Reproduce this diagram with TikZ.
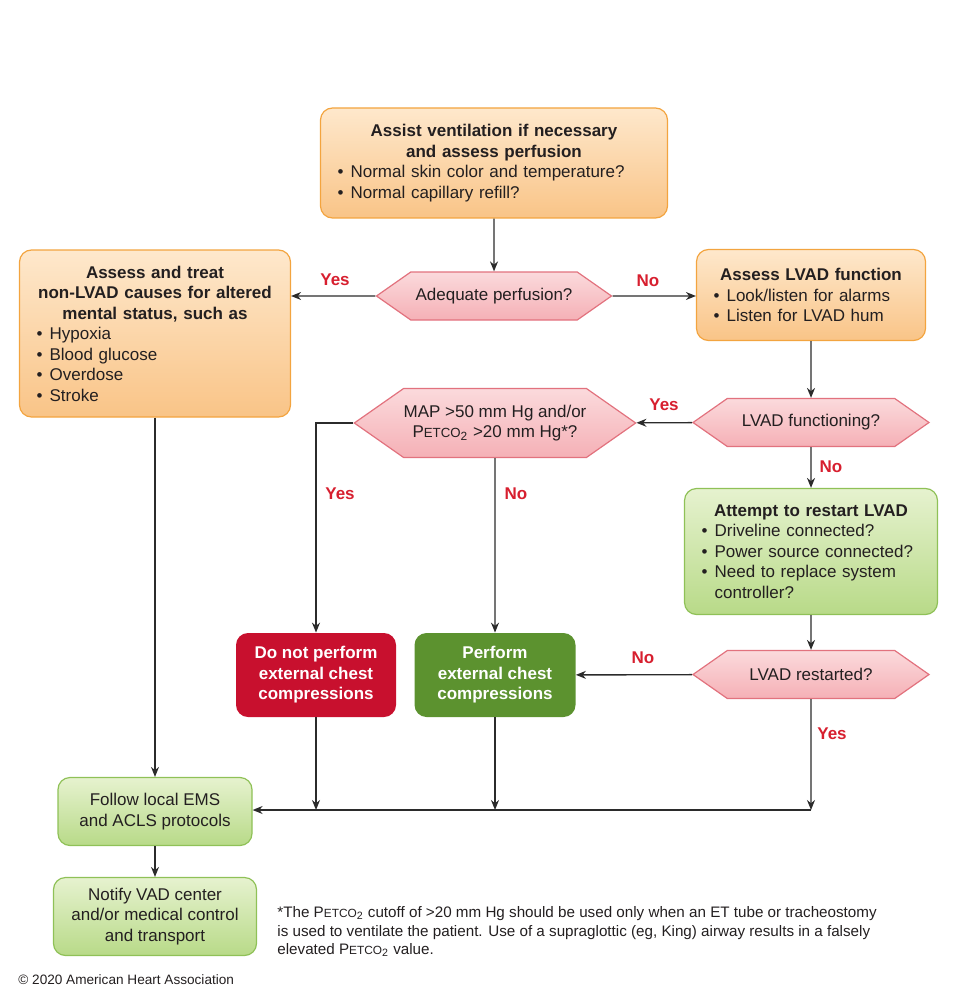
\documentclass[tikz,border=0pt]{standalone}
\usepackage{fontspec}
\setmainfont{Liberation Sans}
\usetikzlibrary{arrows.meta,shapes.symbols}
\definecolor{orangetop}{HTML}{FEE8CC}
\definecolor{orangebot}{HTML}{F9C487}
\definecolor{orangeline}{HTML}{F3A43F}
\definecolor{pinktop}{HTML}{FBDADC}
\definecolor{pinkbot}{HTML}{F5B0B6}
\definecolor{pinkline}{HTML}{E2727E}
\definecolor{greentop}{HTML}{E6F2CF}
\definecolor{greenbot}{HTML}{B8DA88}
\definecolor{greenline}{HTML}{8FC157}
\definecolor{stopred}{HTML}{C8102E}
\definecolor{gogreen}{HTML}{5C922F}
\definecolor{answerred}{HTML}{D71F2F}
\definecolor{lineblack}{HTML}{2B2B2B}
\definecolor{textdark}{HTML}{231F20}
\newcommand\petco{P\scalebox{0.78}{ETCO}\textsubscript{2}}
\newcommand\itm[1]{\mbox{\textbullet\hspace{0.42em}#1}}
\newcommand\itmcont[1]{\mbox{\phantom{\textbullet\hspace{0.42em}}#1}}
\tikzset{
  orangebox/.style={draw=orangeline, line width=0.6pt, rounded corners=6pt,
    top color=orangetop, bottom color=orangebot, align=left, inner xsep=8.5pt},
  greenbox/.style={draw=greenline, line width=0.6pt, rounded corners=6pt,
    top color=greentop, bottom color=greenbot, align=center},
  solidbox/.style={rounded corners=6pt, text=white, align=center,
    font=\fontsize{8.5}{10.25}\selectfont\bfseries},
  decision/.style={signal, signal to=west and east, signal pointer angle=70,
    draw=pinkline, line width=0.6pt, top color=pinktop, bottom color=pinkbot,
    align=center, inner sep=0pt},
  answer/.style={text=answerred, font=\fontsize{8.5}{10.25}\selectfont\bfseries},
  flow/.style={draw=lineblack, line width=0.7pt, -{Stealth[length=5pt,width=4pt]}}
}
\begin{document}
\begin{tikzpicture}[x=0.5pt, y=-0.5pt, text=textdark,
  font=\fontsize{8.5}{10.25}\selectfont]
\useasboundingbox (0,0) rectangle (955,1000);

\node[orangebox, minimum width=173.5pt, minimum height=55pt, text width=156.5pt] (assist) at (494,163)
  {{\centering\bfseries Assist ventilation if necessary\\and assess perfusion\par}
   \itm{Normal skin color and temperature?}\\\itm{Normal capillary refill?}};

\node[decision, minimum width=117.5pt, minimum height=24pt] (adq) at (494,296) {Adequate perfusion?};

\node[orangebox, minimum width=135.5pt, minimum height=83.5pt, text width=118.5pt] (treat) at (155,333.5)
  {{\centering\bfseries Assess and treat\\non-LVAD causes for altered\\mental status, such as\par}
   \itm{Hypoxia}\\\itm{Blood glucose}\\\itm{Overdose}\\\itm{Stroke}};

\node[orangebox, minimum width=114.5pt, minimum height=45.5pt, text width=97.5pt] (lvadfn) at (811,295)
  {{\centering\bfseries Assess LVAD function\par}
   \itm{Look/listen for alarms}\\\itm{Listen for LVAD hum}};

\node[decision, minimum width=118pt, minimum height=24pt] (fnq) at (811,422.5) {LVAD functioning?};

\node[decision, minimum width=139pt, minimum height=34.5pt] (mapq) at (495,423)
  {MAP >50 mm Hg and/or\\\petco{} >20 mm Hg*?};

\node[greenbox, align=left, inner xsep=8.5pt, minimum width=126.5pt, minimum height=63pt, text width=109.5pt] (restart) at (811,551.5)
  {{\centering\bfseries Attempt to restart LVAD\par}
   \itm{Driveline connected?}\\\itm{Power source connected?}\\\itm{Need to replace system}\\\itmcont{controller?}};

\node[decision, minimum width=118pt, minimum height=24pt] (rsq) at (811,674.5) {LVAD restarted?};

\node[solidbox, fill=stopred, minimum width=80pt, minimum height=42pt] (nocpr) at (316,675)
  {Do not perform\\external chest\\compressions};
\node[solidbox, fill=gogreen, minimum width=80.5pt, minimum height=42pt] (cpr) at (495,675)
  {Perform\\external chest\\compressions};

\node[greenbox, minimum width=97pt, minimum height=34pt] (ems) at (155,811.5)
  {Follow local EMS\\and ACLS protocols};
\node[greenbox, minimum width=101.5pt, minimum height=39pt] (notify) at (155,916.5)
  {Notify VAD center\\and/or medical control\\and transport};

\node[answer] (yes1) at (335,280) {Yes};
\node[answer] (no1) at (648,281) {No};
\node[answer] (yes2) at (664,405) {Yes};
\node[answer] (no2) at (831,467) {No};
\node[answer] (yes3) at (340,494) {Yes};
\node[answer] (no3) at (516,494) {No};
\node[answer] (no4) at (643,658) {No};
\node[answer] (yes4) at (832,734) {Yes};

\coordinate (join) at (811,810);

\draw[flow] (assist) -- (adq);
\draw[flow] (adq) -- (adq -| treat.east);
\draw[flow] (adq) -- (adq -| lvadfn.west);
\draw[flow] (lvadfn) -- (fnq);
\draw[flow] (fnq) -- (mapq);
\draw[flow] (fnq) -- (restart);
\draw[flow] (mapq.west) -| (nocpr);
\draw[flow] (mapq) -- (cpr);
\draw[flow] (restart) -- (rsq);
\draw[flow] (rsq) -- (cpr);
\draw[flow] (rsq) -- (join);
\draw[flow] (join) -- (join -| ems.east);
\draw[flow] (nocpr) -- (nocpr |- join);
\draw[flow] (cpr) -- (cpr |- join);
\draw[flow] (treat) -- (ems);
\draw[flow] (ems) -- (notify);

\node[anchor=north west, align=left, inner sep=0pt, font=\fontsize{7.6}{9.3}\selectfont] (note) at (277,906)
  {*The \petco{} cutoff of >20 mm Hg should be used only when an ET tube or tracheostomy\\
   is used to ventilate the patient. Use of a supraglottic (eg, King) airway results in a falsely\\
   elevated \petco{} value.};
\node[anchor=west, inner sep=0pt, font=\fontsize{6.8}{8}\selectfont] (copy) at (18,980)
  {\textcopyright{} 2020 American Heart Association};
\end{tikzpicture}
\end{document}
